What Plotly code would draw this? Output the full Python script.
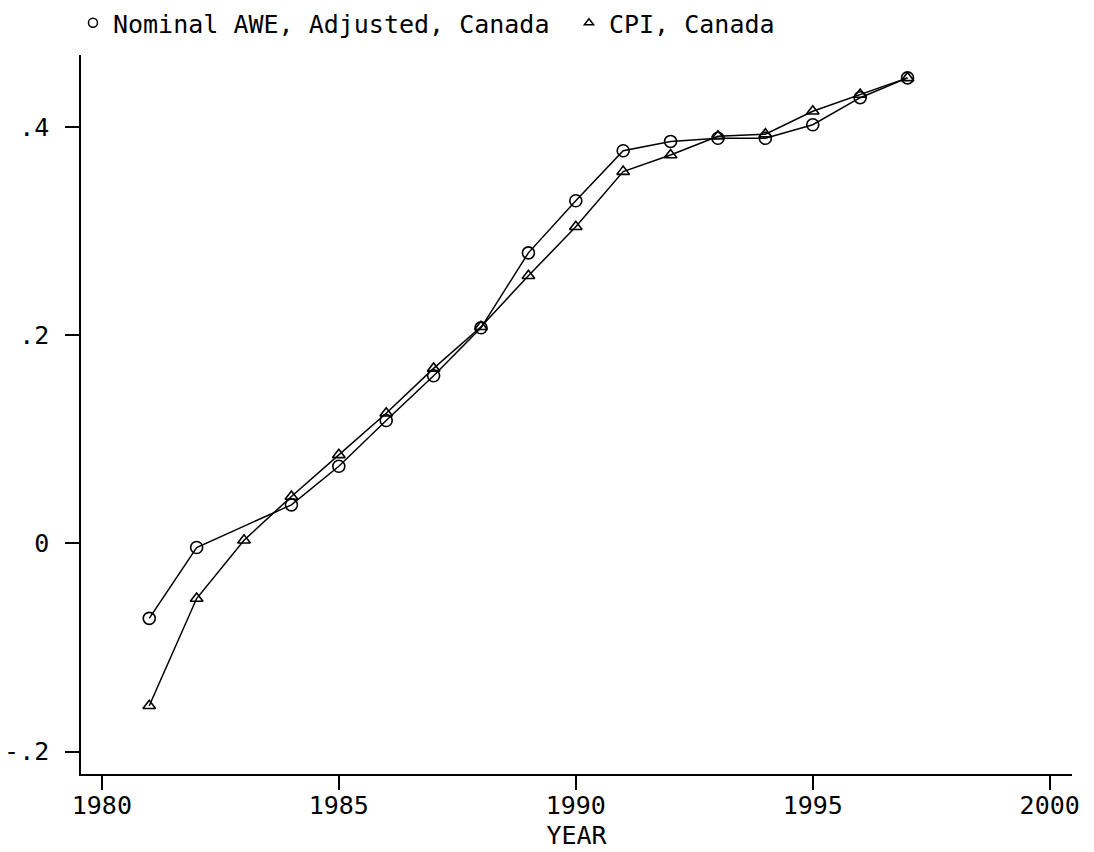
import plotly.graph_objects as go

# Data
awe_years = [1981, 1982, 1984, 1985, 1986, 1987, 1988, 1989, 1990, 1991, 1992, 1993, 1994, 1995, 1996, 1997]
awe_values = [-0.072, -0.004, 0.037, 0.074, 0.118, 0.161, 0.207, 0.279, 0.329, 0.377, 0.386, 0.389, 0.389, 0.402, 0.428, 0.447]

cpi_years = [1981, 1982, 1983, 1984, 1985, 1986, 1987, 1988, 1989, 1990, 1991, 1992, 1993, 1994, 1995, 1996, 1997]
cpi_values = [-0.156, -0.053, 0.003, 0.045, 0.085, 0.125, 0.168, 0.208, 0.257, 0.304, 0.357, 0.373, 0.391, 0.393, 0.415, 0.431, 0.447]

series_names = ["Nominal AWE, Adjusted, Canada", "CPI, Canada"]
x_tickvals = [1980, 1985, 1990, 1995, 2000]
y_tickvals = [-0.2, 0, 0.2, 0.4]
y_ticktext = ["-.2", "0", ".2", ".4"]

FONT = "DejaVu Sans Mono"

fig = go.Figure()
fig.add_trace(go.Scatter(
    x=awe_years, y=awe_values, mode="lines+markers", showlegend=False,
    line=dict(color="black", width=1.5),
    marker=dict(symbol="circle-open", size=12, color="black", line=dict(width=1.6)),
))
fig.add_trace(go.Scatter(
    x=cpi_years, y=cpi_values, mode="lines+markers", showlegend=False,
    line=dict(color="black", width=1.5),
    marker=dict(symbol="triangle-up-open", size=11, color="black", line=dict(width=1.6)),
))
# legend entries (markers only, as in the reference)
fig.add_trace(go.Scatter(
    x=[None], y=[None], mode="markers", name=series_names[0],
    marker=dict(symbol="circle-open", size=9, color="black", line=dict(width=1.5)),
))
fig.add_trace(go.Scatter(
    x=[None], y=[None], mode="markers", name=series_names[1],
    marker=dict(symbol="triangle-up-open", size=8, color="black", line=dict(width=1.5)),
))

fig.update_layout(
    width=1094, height=852,
    paper_bgcolor="white", plot_bgcolor="white",
    margin=dict(l=81, r=22, t=55, b=78),
    font=dict(family=FONT, size=25, color="black"),
    showlegend=True,
    legend=dict(orientation="h", xref="container", yref="container",
                x=0.0667, xanchor="left", y=1.0, yanchor="top",
                font=dict(family=FONT, size=25, color="black"),
                bgcolor="rgba(0,0,0,0)", itemwidth=30, traceorder="normal",
                entrywidth=451, itemclick=False),
    xaxis=dict(
        range=[1979.56, 2000.47], tickvals=x_tickvals, automargin=False,
        showgrid=False, zeroline=False, showline=True, linecolor="black", linewidth=1.5,
        ticks="outside", ticklen=14, tickwidth=1.5, tickcolor="black",
        tickfont=dict(family=FONT, size=25, color="black"),
        ticklabelstandoff=-6,
        title=dict(text="YEAR", font=dict(family=FONT, size=25, color="black"), standoff=8),
    ),
    yaxis=dict(
        range=[-0.2215, 0.469], tickvals=y_tickvals, ticktext=y_ticktext, automargin=False,
        showgrid=False, zeroline=False, showline=True, linecolor="black", linewidth=1.5,
        ticks="outside", ticklen=14, tickwidth=1.5, tickcolor="black",
        tickfont=dict(family=FONT, size=25, color="black"),
        ticklabelstandoff=11,
    ),
)

fig.write_html("out.html", config={"displayModeBar": False},
               post_script="document.body.style.margin='0';")
